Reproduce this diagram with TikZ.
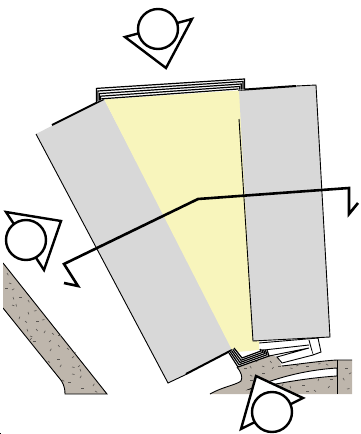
\documentclass[tikz,border=0pt]{standalone}
\usepackage{xcolor}
\definecolor{panelgray}{RGB}{216,216,216}
\definecolor{glasscore}{RGB}{248,245,188}
\definecolor{stonefill}{RGB}{190,182,172}
\definecolor{speck}{RGB}{90,86,82}
\tikzset{
  thinedge/.style={draw=black,line width=0.9pt},
  heavyedge/.style={draw=black,line width=2pt},
  viewtri/.style={draw=black,line width=2.4pt,fill=white,line join=miter},
  viewcirc/.style={circle,draw=black,line width=2.4pt,fill=white,inner sep=0pt,minimum size=40pt},
  layer/.style={draw=black,line width=1.2pt},
  speckle/.style={draw=speck,line width=0.6pt}
}
\begin{document}
\begin{tikzpicture}[x=1pt,y=-1pt]
\useasboundingbox (0,0) rectangle (360,434);
% stone, left
\draw[thinedge,fill=stonefill] (3,263) -- (107,394) -- (65,394) .. controls (65,386) and (62,381) .. (60,379) -- (3,308);
\fill[white] (0,260) rectangle (3,312);
\foreach \x/\y/\a in {7/273/60,9/283/20,5/288/0,12/290/-30,13/297/70,19/297/0,12/305/20,16/304/80,28/300/60,34/311/-10,
  28/312/70,19/319/-70,25/321/40,36/321/0,42/320/-10,36/329/50,27/329/70,30/336/20,44/333/-60,52/333/40,58/335/0,33/341/0,
  30/340/-50,49/342/-40,58/345/50,67/348/40,50/351/-60,73/352/10,48/361/40,57/359/0,72/358/-40,60/367/-60,72/367/10,
  80/369/70,78/367/-40,72/374/10,62/380/30,68/382/0,80/378/-60,81/388/0,93/386/-60,95/391/30} {
  \draw[speckle] (\x,\y) -- +(\a:2.6);
}
% stone, bottom
\fill[stonefill] (210,394) .. controls (222,387) and (236,385) .. (241,381) .. controls (243,377) and (241,372) .. (237,367)
  -- (269,354) -- (277,357) -- (282,366) .. controls (300,364) and (320,361) .. (337,360) -- (352,360) -- (352,394) -- cycle;
\draw[thinedge] (210,394) .. controls (222,387) and (236,385) .. (241,381) .. controls (243,377) and (241,372) .. (237,367);
\draw[thinedge,fill=white] (337,368) .. controls (305,370) and (275,378) .. (250,389) .. controls (275,384) and (305,378) .. (337,376) -- cycle;
\draw[thinedge] (282,366) .. controls (300,364) and (320,361) .. (337,360) -- (352,360);
\draw[thinedge] (337,360) -- (337,394);
\foreach \x/\y/\a in {244/368/0,250/366/60,256/362/-40,262/366/20,270/361/50,262/373/0,250/375/30,272/369/-50,278/366/0,
  250/380/0,290/368/10,296/366/-20,306/366/0,318/364/-10,326/364/30,282/386/-60,290/386/70,302/385/0,318/381/-70,330/379/0,
  328/388/-50,314/390/40,345/368/0,343/378/60,349/374/-30,347/389/-10,306/391/0} {
  \draw[speckle] (\x,\y) -- +(\a:2.6);
}
% white bracket
\draw[thinedge,fill=white] (259,343) -- (318,338) -- (321,352) -- (313,355) -- (309,340);
\draw[thinedge,fill=white] (313,355) -- (282,363) -- (277,357) -- (309,348) -- (269,356) -- (264,350) -- (309,345);
% panels
\fill[panelgray] (36,134) -- (104,99) -- (234,350) -- (168,383) -- cycle;
\fill[glasscore] (104,99) -- (240,90) -- (253,341) -- (259,341) -- (259,350) -- (237,352) -- (232,350) -- cycle;
\fill[panelgray] (239,90) -- (316,85) -- (330,337) -- (253,341) -- cycle;
\draw[thinedge] (36,134) -- (168,383) -- (187,374);
\draw[thinedge] (239,119) -- (253,341) -- (330,337) -- (316,85) -- (296,86);
\draw[heavyedge] (52,125) -- (104,99);
\draw[heavyedge] (238,90) -- (296,86);
\draw[heavyedge] (186,374) -- (232,350);
% wrap layers, top
\fill[white] (96.5,88.4) -- (244.5,79) -- (244.5,90) -- (102,99.5) -- (96.5,102) -- cycle;
\foreach \i in {0,...,4} {
  \draw[layer] ({96.5+1.35*\i},{102-0.7*\i}) -- ({96.5+1.35*\i},{88.4+2.6*\i}) -- ({244.5-1.6*\i},{79+2.5*\i}) -- ({244.5-1.6*\i},{89.6});
}
% wrap layers, bottom
\fill[white] (229,353) -- (238,367) -- (269,356) -- (267,350) -- (259,350) -- (242,355) -- (234,348) -- cycle;
\foreach \i in {0,...,4} {
  \draw[layer] ({229+1.25*\i},{353-1.25*\i}) -- ({238+1*\i},{367-2.25*\i}) -- ({269-2*\i},{356-1.25*\i}) -- ({267-1.75*\i},{350-0.25*\i});
}
% section line
\draw[line width=2.6pt,line join=miter] (64,283) -- (78,286) -- (64,264) -- (198,199) -- (349,188) -- (349,214) -- (358,203);
% view marks
\draw[viewtri] (125,37) -- (166,68) -- (192,19) -- cycle;
\node[viewcirc] (viewtop) at (158,29) {};
\draw[viewtri] (6,212) -- (61,221) -- (44,270) -- cycle;
\node[viewcirc] (viewleft) at (26,240) {};
\draw[viewtri] (256,376) -- (303,398) -- (241,429) -- cycle;
\node[viewcirc] (viewbottom) at (272,412) {};
\fill[black] (0,432.5) rectangle (0.8,434);
\end{tikzpicture}
\end{document}
